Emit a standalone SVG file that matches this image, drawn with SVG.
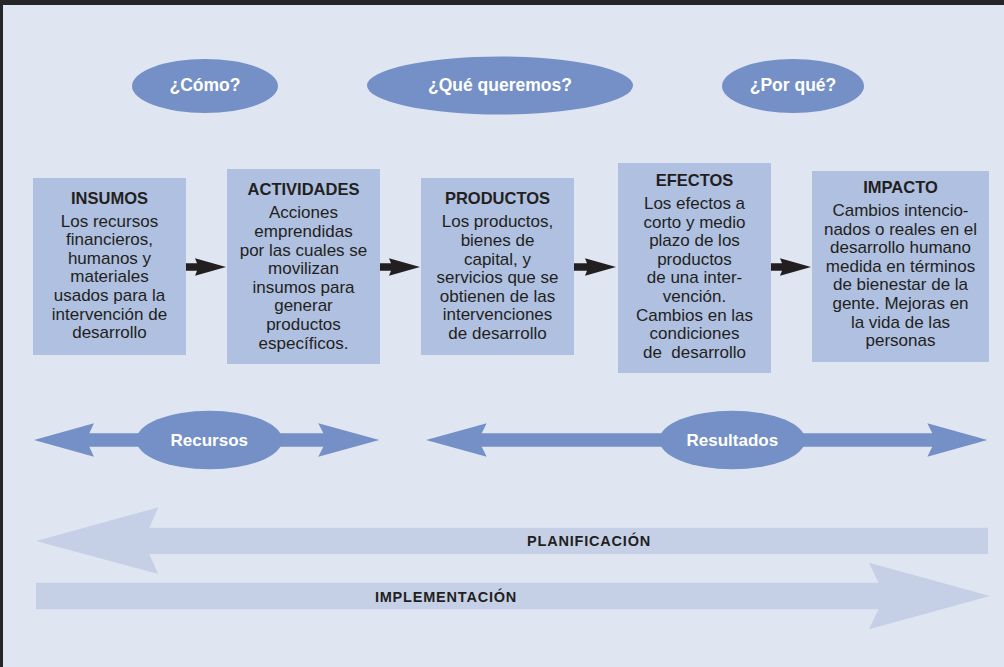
<svg xmlns="http://www.w3.org/2000/svg" width="1004" height="667" viewBox="0 0 1004 667">
<style>
.bg{fill:#dfe6f2}
.ell{fill:#7490c6}
.box{fill:#afc0e0}
.big{fill:#c5d0e7}
.blk{fill:#231f20}
.q{font-family:"Liberation Sans",Arial,sans-serif;font-weight:bold;font-size:17.5px;fill:#ffffff;text-anchor:middle}
.lbl{font-family:"Liberation Sans",Arial,sans-serif;font-weight:bold;font-size:17px;fill:#ffffff;text-anchor:middle}
.ttl{font-family:"Liberation Sans",Arial,sans-serif;font-weight:bold;font-size:16.5px;fill:#231f20;text-anchor:middle}
.body{font-family:"Liberation Sans",Arial,sans-serif;font-size:17px;fill:#231f20;text-anchor:middle}
.band{font-family:"Liberation Sans",Arial,sans-serif;font-weight:bold;font-size:14.5px;letter-spacing:0.8px;fill:#231f20;text-anchor:middle}
</style>
<rect class="bg" x="0" y="0" width="1004" height="667"/>
<rect x="0" y="0" width="1004" height="5" fill="#262626"/>
<rect x="0" y="0" width="3" height="667" fill="#262626"/>

<g id="q-como"><ellipse class="ell" cx="205" cy="86" rx="73" ry="27"/><text class="q" x="205" y="91">¿Cómo?</text></g>
<g id="q-que"><ellipse class="ell" cx="500" cy="85.5" rx="133" ry="29"/><text class="q" x="500" y="91">¿Qué queremos?</text></g>
<g id="q-porque"><ellipse class="ell" cx="793" cy="86" rx="71" ry="27"/><text class="q" x="793" y="91">¿Por qué?</text></g>

<g id="insumos">
<rect class="box" x="33" y="178" width="153" height="177"/>
<text class="ttl" x="109.5" y="204">INSUMOS</text>
<text class="body" x="109.5" y="226.5"><tspan x="109.5">Los recursos</tspan><tspan x="109.5" dy="18.6">financieros,</tspan><tspan x="109.5" dy="18.6">humanos y</tspan><tspan x="109.5" dy="18.6">materiales</tspan><tspan x="109.5" dy="18.6">usados para la</tspan><tspan x="109.5" dy="18.6">intervención de</tspan><tspan x="109.5" dy="18.6">desarrollo</tspan></text>
</g>
<g id="actividades">
<rect class="box" x="227" y="169" width="153" height="195"/>
<text class="ttl" x="303.5" y="195">ACTIVIDADES</text>
<text class="body" x="303.5" y="218.3"><tspan x="303.5">Acciones</tspan><tspan x="303.5" dy="18.6">emprendidas</tspan><tspan x="303.5" dy="18.6">por las cuales se</tspan><tspan x="303.5" dy="18.6">movilizan</tspan><tspan x="303.5" dy="18.6">insumos para</tspan><tspan x="303.5" dy="18.6">generar</tspan><tspan x="303.5" dy="18.6">productos</tspan><tspan x="303.5" dy="18.6">específicos.</tspan></text>
</g>
<g id="productos">
<rect class="box" x="421" y="178" width="153" height="177"/>
<text class="ttl" x="497.5" y="204">PRODUCTOS</text>
<text class="body" x="497.5" y="227.3"><tspan x="497.5">Los productos,</tspan><tspan x="497.5" dy="18.6">bienes de</tspan><tspan x="497.5" dy="18.6">capital, y</tspan><tspan x="497.5" dy="18.6">servicios que se</tspan><tspan x="497.5" dy="18.6">obtienen de las</tspan><tspan x="497.5" dy="18.6">intervenciones</tspan><tspan x="497.5" dy="18.6">de desarrollo</tspan></text>
</g>
<g id="efectos">
<rect class="box" x="618" y="163" width="153" height="210"/>
<text class="ttl" x="694.5" y="186">EFECTOS</text>
<text class="body" x="694.5" y="209"><tspan x="694.5">Los efectos a</tspan><tspan x="694.5" dy="18.6">corto y medio</tspan><tspan x="694.5" dy="18.6">plazo de los</tspan><tspan x="694.5" dy="18.6">productos</tspan><tspan x="694.5" dy="18.6">de una inter-</tspan><tspan x="694.5" dy="18.6">vención.</tspan><tspan x="694.5" dy="18.6">Cambios en las</tspan><tspan x="694.5" dy="18.6">condiciones</tspan><tspan x="694.5" dy="18.6" xml:space="preserve">de  desarrollo</tspan></text>
</g>
<g id="impacto">
<rect class="box" x="812" y="171" width="177" height="191"/>
<text class="ttl" x="900.5" y="193">IMPACTO</text>
<text class="body" x="900.5" y="216"><tspan x="900.5">Cambios intencio-</tspan><tspan x="900.5" dy="18.6">nados o reales en el</tspan><tspan x="900.5" dy="18.6">desarrollo humano</tspan><tspan x="900.5" dy="18.6">medida en términos</tspan><tspan x="900.5" dy="18.6">de bienestar de la</tspan><tspan x="900.5" dy="18.6">gente. Mejoras en</tspan><tspan x="900.5" dy="18.6">la vida de las</tspan><tspan x="900.5" dy="18.6">personas</tspan></text>
</g>

<g id="connectors">
<path class="blk" d="M186,263.2 L197,263.2 L195,258.3 L226,267 L195,275.7 L197,270.8 L186,270.8 Z"/>
<path class="blk" d="M380,263.2 L391,263.2 L389,258.3 L420,267 L389,275.7 L391,270.8 L380,270.8 Z"/>
<path class="blk" d="M574,263.2 L587,263.2 L585,258.3 L616,267 L585,275.7 L587,270.8 L574,270.8 Z"/>
<path class="blk" d="M771,263.2 L782,263.2 L780,258.3 L811,267 L780,275.7 L782,270.8 L771,270.8 Z"/>
</g>

<g id="recursos">
<path class="ell" d="M34,440 L94,423.3 L89.3,433.3 L323.3,433.3 L318.3,423.3 L379.3,440 L318.3,456.7 L323.3,446.7 L89.3,446.7 L94,456.7 Z"/>
<ellipse class="ell" cx="209.3" cy="440" rx="73" ry="29.3"/>
<text class="lbl" x="209.3" y="446">Recursos</text>
</g>
<g id="resultados">
<path class="ell" d="M426,440 L486.7,423.3 L481.7,433.3 L932.3,433.3 L927.3,423.3 L987.3,440 L927.3,456.7 L932.3,446.7 L481.7,446.7 L486.7,456.7 Z"/>
<ellipse class="ell" cx="732.3" cy="440" rx="73" ry="29.3"/>
<text class="lbl" x="732.3" y="446">Resultados</text>
</g>

<g id="planificacion">
<path class="big" d="M36,541 L158.3,507.3 L149.3,527.7 L988,527.7 L988,554 L149.3,554 L158.3,574 Z"/>
<text class="band" x="589" y="545.5">PLANIFICACIÓN</text>
</g>
<g id="implementacion">
<path class="big" d="M36,582.7 L878.6,582.7 L869,562.7 L990,596 L869,629.3 L878.6,609.3 L36,609.3 Z"/>
<text class="band" x="446" y="601.5">IMPLEMENTACIÓN</text>
</g>
</svg>
